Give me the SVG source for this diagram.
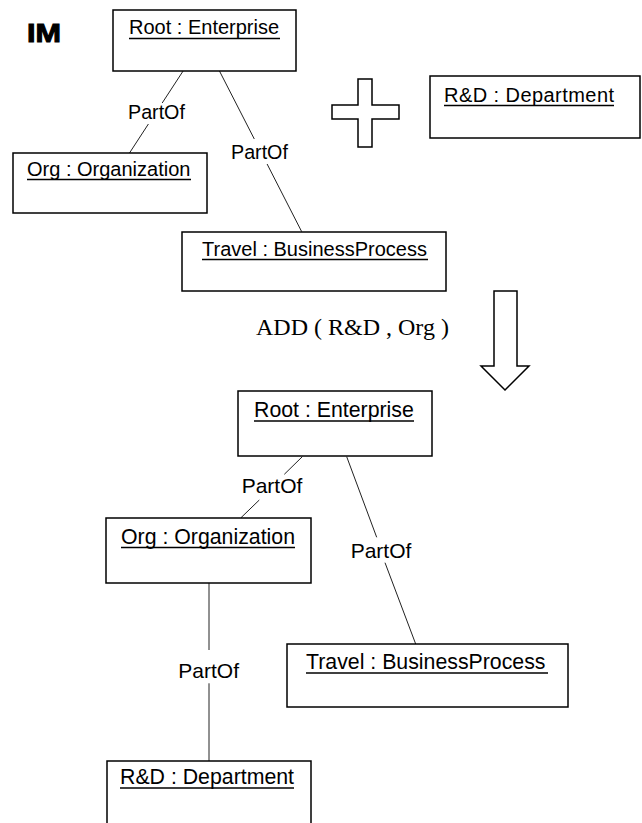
<svg xmlns="http://www.w3.org/2000/svg" width="642" height="823" viewBox="0 0 642 823">
  <style>
    .box { fill: #fff; stroke: #000; stroke-width: 1.5; }
    .name { font-family: "Liberation Sans", Arial, sans-serif; font-size: 20px; fill: #000; }
    .name2 { font-family: "Liberation Sans", Arial, sans-serif; font-size: 21.3px; fill: #000; }
    .ul { stroke: #000; stroke-width: 1.5; }
    .conn { stroke: #222; stroke-width: 1; fill: none; }
    .lbl { font-family: "Liberation Sans", Arial, sans-serif; font-size: 19.7px; fill: #000; }
    .lbl2 { font-family: "Liberation Sans", Arial, sans-serif; font-size: 21px; fill: #000; }
    .sym { fill: #fff; stroke: #000; stroke-width: 1.5; stroke-linejoin: miter; }
  </style>

  <rect width="642" height="823" fill="#fff"/>

  <!-- title -->
  <text x="27" y="42" font-family="'Liberation Sans', Arial, sans-serif" font-size="26" font-weight="bold" stroke="#000" stroke-width="1" textLength="34" lengthAdjust="spacingAndGlyphs">IM</text>

  <!-- connectors, upper model -->
  <g id="connectors-before">
    <line class="conn" x1="183.3" y1="70.7" x2="162.2" y2="103"/>
    <line class="conn" x1="148.4" y1="124" x2="129.3" y2="153.3"/>
    <text class="lbl" x="128" y="119.3">PartOf</text>

    <line class="conn" x1="219.3" y1="70.7" x2="254.3" y2="139"/>
    <line class="conn" x1="267.1" y1="164" x2="301.7" y2="231.7"/>
    <text class="lbl" x="231" y="159.3">PartOf</text>
  </g>

  <!-- upper model objects -->
  <g id="root-before">
    <rect class="box" x="113" y="10" width="183" height="61"/>
    <text class="name" x="129" y="34">Root : Enterprise</text>
    <line class="ul" x1="129" y1="38.5" x2="280" y2="38.5"/>
  </g>
  <g id="org-before">
    <rect class="box" x="13" y="153" width="194" height="60"/>
    <text class="name" x="27" y="176">Org : Organization</text>
    <line class="ul" x1="27" y1="179.5" x2="191" y2="179.5"/>
  </g>
  <g id="travel-before">
    <rect class="box" x="182" y="232" width="264" height="59"/>
    <text class="name" x="202" y="256">Travel : BusinessProcess</text>
    <line class="ul" x1="202" y1="259.5" x2="428" y2="259.5"/>
  </g>

  <!-- plus sign -->
  <path class="sym" d="M358,79 H372 V105 H399 V119 H372 V147 H358 V119 H332 V105 H358 Z"/>

  <g id="rnd-new">
    <rect class="box" x="430" y="76" width="210" height="62"/>
    <text class="name" x="444" y="102" textLength="170">R&amp;D : Department</text>
    <line class="ul" x1="444" y1="105.5" x2="614" y2="105.5"/>
  </g>

  <!-- operation -->
  <text x="256" y="335" font-family="'Liberation Serif', 'Times New Roman', serif" font-size="24" fill="#000">ADD ( R&amp;D , Org )</text>
  <path class="sym" d="M494,291 H517 V366 H529 L505,390 L481,366 H494 Z"/>

  <!-- connectors, lower model -->
  <g id="connectors-after">
    <line class="conn" x1="302.3" y1="456.7" x2="284.3" y2="474.3"/>
    <line class="conn" x1="259.3" y1="500" x2="241" y2="517.7"/>
    <text class="lbl2" x="241.7" y="493.3">PartOf</text>

    <line class="conn" x1="346.7" y1="456.7" x2="376.7" y2="537.3"/>
    <line class="conn" x1="385" y1="562.7" x2="415.7" y2="644"/>
    <text class="lbl2" x="350.7" y="557.7">PartOf</text>

    <line class="conn" x1="209" y1="583" x2="209" y2="650"/>
    <line class="conn" x1="209" y1="683.3" x2="209" y2="761"/>
    <text class="lbl2" x="178.3" y="678.3">PartOf</text>
  </g>

  <!-- lower model objects -->
  <g id="root-after">
    <rect class="box" x="238" y="391" width="194" height="65"/>
    <text class="name2" x="254" y="417">Root : Enterprise</text>
    <line class="ul" x1="254" y1="421" x2="414" y2="421"/>
  </g>
  <g id="org-after">
    <rect class="box" x="106" y="518" width="205" height="65"/>
    <text class="name2" x="121" y="544">Org : Organization</text>
    <line class="ul" x1="121" y1="547.5" x2="295" y2="547.5"/>
  </g>
  <g id="travel-after">
    <rect class="box" x="287" y="644" width="281" height="63"/>
    <text class="name2" x="306" y="669">Travel : BusinessProcess</text>
    <line class="ul" x1="306" y1="673" x2="548" y2="673"/>
  </g>
  <g id="rnd-after">
    <rect class="box" x="107" y="761" width="204" height="70"/>
    <text class="name2" x="120" y="784">R&amp;D : Department</text>
    <line class="ul" x1="120" y1="788" x2="294" y2="788"/>
  </g>
</svg>
